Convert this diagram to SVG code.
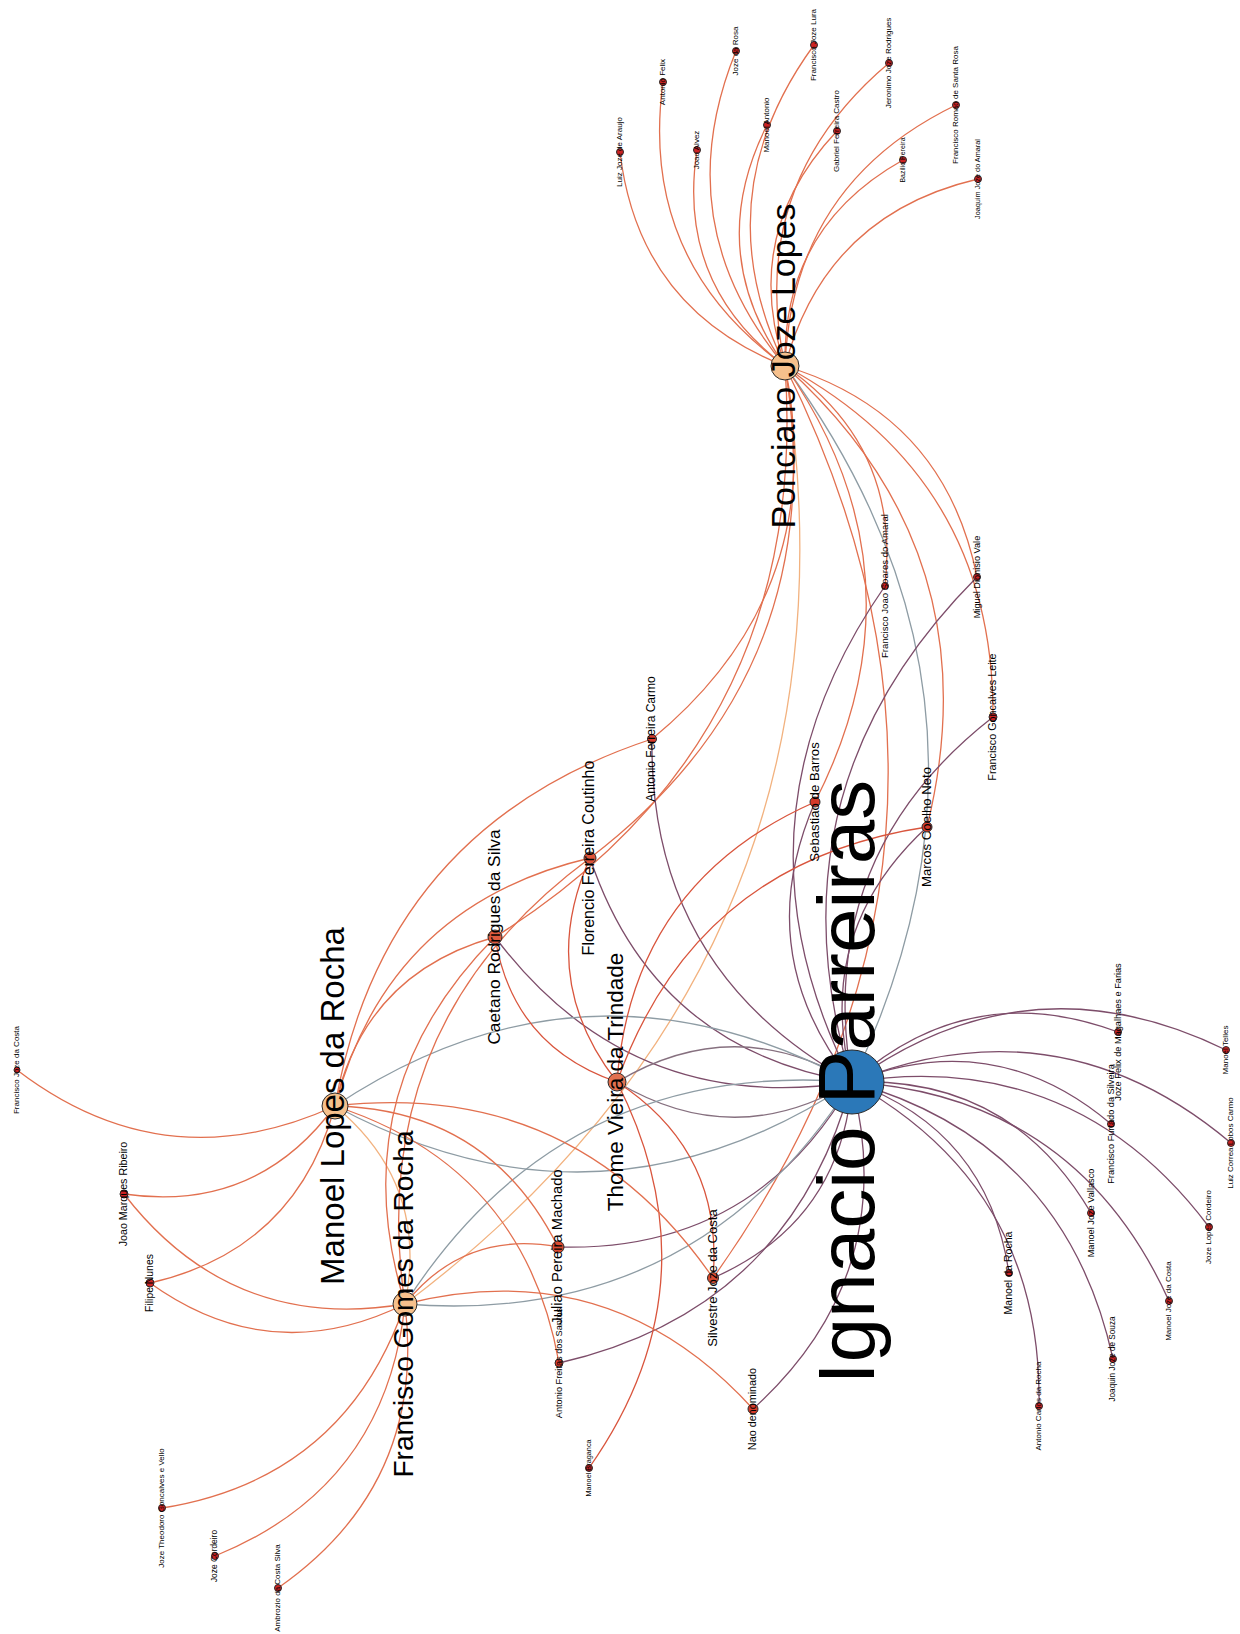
<svg xmlns="http://www.w3.org/2000/svg" width="1240" height="1634" viewBox="0 0 1240 1634">
<style>
  .e { fill: none; stroke-width: 1.3; stroke-linecap: round; }
  .pr { stroke: #e2704f; }
  .ip { stroke: #7d4d6a; }
  .ig { stroke: #8e9ca4; }
  .pp { stroke: #f2b27f; }
  .tr { stroke: #d9553d; }
  .ti { stroke: #86707f; }
  .n circle { stroke: #2a2a2a; stroke-width: 1; }
  .leaf circle { fill: #cc2222; }
  .low circle { fill: #d43a2a; }
  .mid circle { fill: #da4a30; }
  .hub circle { fill: #f6c08c; }
  .n text { font-family: "Liberation Sans", Arial, sans-serif; text-anchor: middle; fill: #000; }
</style>
<rect width="1240" height="1634" fill="#ffffff"/>

<!-- connectors: quadratic arcs, bending to the left of source -> target -->
<g id="edges">
  <!-- Ponciano Joze Lopes -->
  <path class="e pr" d="M785,366 Q638.3,308.5 620,152"/>
  <path class="e pr" d="M785,366 Q638.8,260.6 663,82"/>
  <path class="e pr" d="M785,366 Q676.2,284.4 697,150"/>
  <path class="e pr" d="M785,366 Q666,223.2 736,51"/>
  <path class="e pr" d="M785,366 Q703.7,250.9 767,125"/>
  <path class="e pr" d="M785,366 Q703.2,196.8 814,45"/>
  <path class="e pr" d="M785,366 Q740.5,232.9 837,131"/>
  <path class="e pr" d="M785,366 Q746.1,183.3 889,63"/>
  <path class="e pr" d="M785,366 Q782.2,227.6 903,160"/>
  <path class="e pr" d="M785,366 Q792.2,184.2 956,105"/>
  <path class="e pr" d="M785,366 Q825.4,214.6 978,179"/>
  <path class="e ig" d="M785,366 Q1033.3,703.9 852,1082"/>
  <path class="e pp" d="M785,366 Q876.4,949 405,1304"/>
  <path class="e pr" d="M785,366 Q830.4,592.4 652,739"/>
  <path class="e pr" d="M785,366 Q835.1,670.5 590,858"/>
  <path class="e pr" d="M785,366 Q811.3,738.5 495,937"/>
  <path class="e pr" d="M785,366 Q944.3,413.9 977,577"/>
  <path class="e pr" d="M785,366 Q994.3,479.1 993,717"/>
  <path class="e pr" d="M785,366 Q994.3,553.9 927,827"/>
  <path class="e pr" d="M785,366 Q901,446 885,586"/>
  <path class="e pr" d="M785,366 Q930.8,575 815,802"/>
  <path class="e pr" d="M785,366 Q1022.6,843.6 713,1278"/>
  <!-- Ignacio Parreiras -->
  <path class="e ip" d="M852,1082 Q970,977.2 1118,1032"/>
  <path class="e ip" d="M852,1082 Q1029.4,953.8 1226,1050"/>
  <path class="e ip" d="M852,1082 Q994.1,1025.3 1111,1124"/>
  <path class="e ip" d="M852,1082 Q1059.8,998.8 1231,1143"/>
  <path class="e ip" d="M852,1082 Q1010.8,1075.8 1091,1213"/>
  <path class="e ip" d="M852,1082 Q1074,1047.4 1209,1227"/>
  <path class="e ip" d="M852,1082 Q987.8,1130.4 1009,1273"/>
  <path class="e ip" d="M852,1082 Q1042.7,1187.9 1039,1406"/>
  <path class="e ip" d="M852,1082 Q1065.6,1142.2 1113,1359"/>
  <path class="e ip" d="M852,1082 Q1076.2,1096.4 1169,1301"/>
  <path class="e ip" d="M852,1082 Q719.7,824.1 885,586"/>
  <path class="e ip" d="M852,1082 Q763,792 977,577"/>
  <path class="e ip" d="M852,1082 Q813,857.2 993,717"/>
  <path class="e ip" d="M852,1082 Q813,932 927,827"/>
  <path class="e ip" d="M852,1082 Q749.5,953.1 815,802"/>
  <path class="e ip" d="M852,1082 Q649.1,970.5 652,739"/>
  <path class="e ip" d="M852,1082 Q653.8,1048.6 590,858"/>
  <path class="e ip" d="M852,1082 Q630,1116.6 495,937"/>
  <path class="e ip" d="M852,1082 Q754.5,1252.7 558,1247"/>
  <path class="e ip" d="M852,1082 Q841.3,1221.7 713,1278"/>
  <path class="e ip" d="M852,1082 Q789.8,1310.4 559,1363"/>
  <path class="e ip" d="M852,1082 Q900.6,1275.2 753,1409"/>
  <path class="e ti" d="M852,1082 Q734.5,1152.5 617,1082"/>
  <path class="e ti" d="M617,1082 Q734.5,1011.5 852,1082"/>
  <path class="e ig" d="M335,1106 Q586.3,938.9 852,1082"/>
  <path class="e ig" d="M852,1082 Q600.7,1249.1 335,1106"/>
  <path class="e ig" d="M405,1304 Q561.9,1058.9 852,1082"/>
  <path class="e ig" d="M852,1082 Q695.1,1327.1 405,1304"/>
  <!-- Thome Vieira da Trindade -->
  <path class="e tr" d="M617,1082 Q512.5,1046.1 495,937"/>
  <path class="e tr" d="M617,1082 Q536.3,978.1 590,858"/>
  <path class="e tr" d="M617,1082 Q632,882.6 815,802"/>
  <path class="e tr" d="M617,1082 Q695.5,861.5 927,827"/>
  <path class="e tr" d="M617,1082 Q718.8,1283.4 589,1468"/>
  <path class="e tr" d="M617,1082 Q723.8,1151.2 713,1278"/>
  <!-- Manoel Lopes da Rocha -->
  <path class="e pr" d="M335,1106 Q165.2,1183.4 17,1070"/>
  <path class="e pr" d="M335,1106 Q255.9,1213.3 124,1194"/>
  <path class="e pr" d="M335,1106 Q295.6,1250 150,1283"/>
  <path class="e pp" d="M335,1106 Q429.4,1184 405,1304"/>
  <path class="e pr" d="M335,1106 Q524.1,1167.3 559,1363"/>
  <path class="e pr" d="M335,1106 Q383.4,827.4 652,739"/>
  <path class="e pr" d="M335,1106 Q387.9,905.5 590,858"/>
  <path class="e pr" d="M335,1106 Q364.3,973.5 495,937"/>
  <path class="e pr" d="M335,1106 Q575.6,1078.6 713,1278"/>
  <path class="e pr" d="M335,1106 Q489.3,1109.6 558,1247"/>
  <!-- Francisco Gomes da Rocha -->
  <path class="e pr" d="M405,1304 Q231.5,1333.3 124,1194"/>
  <path class="e pr" d="M405,1304 Q271.2,1370 150,1283"/>
  <path class="e pr" d="M405,1304 Q344.7,1478.9 162,1508"/>
  <path class="e pr" d="M405,1304 Q385.6,1487 215,1556"/>
  <path class="e pr" d="M405,1304 Q426.7,1484.1 278,1588"/>
  <path class="e pr" d="M405,1304 Q610.5,1252.1 753,1409"/>
  <path class="e pr" d="M405,1304 Q464.4,1229.6 558,1247"/>
  <path class="e pr" d="M405,1304 Q339.9,1093.5 495,937"/>
  <path class="e pr" d="M405,1304 Q363.7,1025.5 590,858"/>
</g>

<!-- nodes -->
<g id="n-ignacio-parreiras" class="n">
  <circle cx="852" cy="1082" r="32" fill="#2b78b8"/>
  <text x="852" y="1082" dy="0.28em" font-size="80" transform="rotate(-90 852 1082)">Ignacio Parreiras</text>
</g>
<g id="n-ponciano-joze-lopes" class="n hub">
  <circle cx="785" cy="366" r="14"/>
  <text x="785" y="366" dy="0.28em" font-size="34" transform="rotate(-90 785 366)">Ponciano Joze Lopes</text>
</g>
<g id="n-manoel-lopes-da-rocha" class="n hub">
  <circle cx="335" cy="1106" r="13"/>
  <text x="335" y="1106" dy="0.28em" font-size="33" transform="rotate(-90 335 1106)">Manoel Lopes da Rocha</text>
</g>
<g id="n-francisco-gomes-da-rocha" class="n hub">
  <circle cx="405" cy="1304" r="12"/>
  <text x="405" y="1304" dy="0.28em" font-size="28" transform="rotate(-90 405 1304)">Francisco Gomes da Rocha</text>
</g>
<g id="n-thome-vieira-da-trindade" class="n">
  <circle cx="617" cy="1082" r="9" fill="#e2704f"/>
  <text x="617" y="1082" dy="0.28em" font-size="22.5" transform="rotate(-90 617 1082)">Thome Vieira da Trindade</text>
</g>
<g id="n-caetano-rodrigues-da-silva" class="n">
  <circle cx="495" cy="937" r="7" fill="#e05a3e"/>
  <text x="495" y="937" dy="0.28em" font-size="17.3" transform="rotate(-90 495 937)">Caetano Rodrigues da Silva</text>
</g>
<g id="n-florencio-ferreira-coutinho" class="n">
  <circle cx="590" cy="858" r="6" fill="#de5238"/>
  <text x="590" y="858" dy="0.28em" font-size="16" transform="rotate(-90 590 858)">Florencio Ferreira Coutinho</text>
</g>
<g id="n-juliao-pereira-machado" class="n mid">
  <circle cx="558" cy="1247" r="6"/>
  <text x="558" y="1247" dy="0.28em" font-size="14.8" transform="rotate(-90 558 1247)">Juliao Pereira Machado</text>
</g>
<g id="n-silvestre-joze-da-costa" class="n mid">
  <circle cx="713" cy="1278" r="5.5"/>
  <text x="713" y="1278" dy="0.28em" font-size="13.1" transform="rotate(-90 713 1278)">Silvestre Joze da Costa</text>
</g>
<g id="n-antonio-freitas-dos-santos" class="n low">
  <circle cx="559" cy="1363" r="4"/>
  <text x="559" y="1363" dy="0.28em" font-size="9.2" transform="rotate(-90 559 1363)">Antonio Freitas dos Santos</text>
</g>
<g id="n-nao-denominado" class="n low">
  <circle cx="753" cy="1409" r="5"/>
  <text x="753" y="1409" dy="0.28em" font-size="10.8" transform="rotate(-90 753 1409)">Nao denominado</text>
</g>
<g id="n-manoel-braganca" class="n leaf">
  <circle cx="589" cy="1468" r="3.5"/>
  <text x="589" y="1468" dy="0.28em" font-size="7.3" transform="rotate(-90 589 1468)">Manoel Braganca</text>
</g>
<g id="n-antonio-ferreira-carmo" class="n low">
  <circle cx="652" cy="739" r="4.5"/>
  <text x="652" y="739" dy="0.28em" font-size="12" transform="rotate(-90 652 739)">Antonio Ferreira Carmo</text>
</g>
<g id="n-sebastiao-de-barros" class="n low">
  <circle cx="815" cy="802" r="5"/>
  <text x="815" y="802" dy="0.28em" font-size="13.2" transform="rotate(-90 815 802)">Sebastiao de Barros</text>
</g>
<g id="n-marcos-coelho-neto" class="n low">
  <circle cx="927" cy="827" r="5"/>
  <text x="927" y="827" dy="0.28em" font-size="13.2" transform="rotate(-90 927 827)">Marcos Coelho Neto</text>
</g>
<g id="n-francisco-joao-soares-do-amaral" class="n leaf">
  <circle cx="885" cy="586" r="3.5"/>
  <text x="885" y="586" dy="0.28em" font-size="9.6" transform="rotate(-90 885 586)">Francisco Joao Soares do Amaral</text>
</g>
<g id="n-miguel-dionisio-vale" class="n leaf">
  <circle cx="977" cy="577" r="3.5"/>
  <text x="977" y="577" dy="0.28em" font-size="9.2" transform="rotate(-90 977 577)">Miguel Dionisio Vale</text>
</g>
<g id="n-francisco-goncalves-leite" class="n leaf">
  <circle cx="993" cy="717" r="4"/>
  <text x="993" y="717" dy="0.28em" font-size="10.8" transform="rotate(-90 993 717)">Francisco Goncalves Leite</text>
</g>
<g id="n-luiz-joze-de-araujo" class="n leaf">
  <circle cx="620" cy="152" r="3.5"/>
  <text x="620" y="152" dy="0.28em" font-size="8" transform="rotate(-90 620 152)">Luiz Joze de Araujo</text>
</g>
<g id="n-antonio-felix" class="n leaf">
  <circle cx="663" cy="82" r="3.5"/>
  <text x="663" y="82" dy="0.28em" font-size="8" transform="rotate(-90 663 82)">Antonio Felix</text>
</g>
<g id="n-joao-alvez" class="n leaf">
  <circle cx="697" cy="150" r="3.5"/>
  <text x="697" y="150" dy="0.28em" font-size="8" transform="rotate(-90 697 150)">Joao Alvez</text>
</g>
<g id="n-joze-da-rosa" class="n leaf">
  <circle cx="736" cy="51" r="3.5"/>
  <text x="736" y="51" dy="0.28em" font-size="8" transform="rotate(-90 736 51)">Joze da Rosa</text>
</g>
<g id="n-manoel-antonio" class="n leaf">
  <circle cx="767" cy="125" r="3.5"/>
  <text x="767" y="125" dy="0.28em" font-size="8" transform="rotate(-90 767 125)">Manoel Antonio</text>
</g>
<g id="n-francisco-joze-lura" class="n leaf">
  <circle cx="814" cy="45" r="3.5"/>
  <text x="814" y="45" dy="0.28em" font-size="8" transform="rotate(-90 814 45)">Francisco Joze Lura</text>
</g>
<g id="n-gabriel-ferreira-castro" class="n leaf">
  <circle cx="837" cy="131" r="3.5"/>
  <text x="837" y="131" dy="0.28em" font-size="8" transform="rotate(-90 837 131)">Gabriel Ferreira Castro</text>
</g>
<g id="n-jeronimo-joze-rodrigues" class="n leaf">
  <circle cx="889" cy="63" r="3.5"/>
  <text x="889" y="63" dy="0.28em" font-size="8" transform="rotate(-90 889 63)">Jeronimo Joze Rodrigues</text>
</g>
<g id="n-bazilio-pereira" class="n leaf">
  <circle cx="903" cy="160" r="3.5"/>
  <text x="903" y="160" dy="0.28em" font-size="7" transform="rotate(-90 903 160)">Bazilio Pereira</text>
</g>
<g id="n-francisco-romao-de-santa-rosa" class="n leaf">
  <circle cx="956" cy="105" r="3.5"/>
  <text x="956" y="105" dy="0.28em" font-size="8" transform="rotate(-90 956 105)">Francisco Romao de Santa Rosa</text>
</g>
<g id="n-joaquim-joze-do-amaral" class="n leaf">
  <circle cx="978" cy="179" r="3.5"/>
  <text x="978" y="179" dy="0.28em" font-size="7.3" transform="rotate(-90 978 179)">Joaquim Joze do Amaral</text>
</g>
<g id="n-francisco-joze-da-costa" class="n leaf">
  <circle cx="17" cy="1070" r="3"/>
  <text x="17" y="1070" dy="0.28em" font-size="8" transform="rotate(-90 17 1070)">Francisco Joze da Costa</text>
</g>
<g id="n-joao-marques-ribeiro" class="n leaf">
  <circle cx="124" cy="1194" r="4"/>
  <text x="124" y="1194" dy="0.28em" font-size="10.7" transform="rotate(-90 124 1194)">Joao Marques Ribeiro</text>
</g>
<g id="n-filipe-nunes" class="n leaf">
  <circle cx="150" cy="1283" r="4"/>
  <text x="150" y="1283" dy="0.28em" font-size="10.4" transform="rotate(-90 150 1283)">Filipe Nunes</text>
</g>
<g id="n-joze-theodoro-goncalves-e-vello" class="n leaf">
  <circle cx="162" cy="1508" r="3.5"/>
  <text x="162" y="1508" dy="0.28em" font-size="8" transform="rotate(-90 162 1508)">Joze Theodoro Goncalves e Vello</text>
</g>
<g id="n-joze-cordeiro" class="n leaf">
  <circle cx="215" cy="1556" r="3.5"/>
  <text x="215" y="1556" dy="0.28em" font-size="8.4" transform="rotate(-90 215 1556)">Joze Cordeiro</text>
</g>
<g id="n-ambrozio-da-costa-silva" class="n leaf">
  <circle cx="278" cy="1588" r="3.5"/>
  <text x="278" y="1588" dy="0.28em" font-size="8" transform="rotate(-90 278 1588)">Ambrozio da Costa Silva</text>
</g>
<g id="n-joze-felix-de-magalhaes-e-farias" class="n leaf">
  <circle cx="1118" cy="1032" r="3.5"/>
  <text x="1118" y="1032" dy="0.28em" font-size="9.2" transform="rotate(-90 1118 1032)">Joze Felix de Magalhaes e Farias</text>
</g>
<g id="n-manoel-telles" class="n leaf">
  <circle cx="1226" cy="1050" r="3.5"/>
  <text x="1226" y="1050" dy="0.28em" font-size="8" transform="rotate(-90 1226 1050)">Manoel Telles</text>
</g>
<g id="n-francisco-furtado-da-silveira" class="n leaf">
  <circle cx="1111" cy="1124" r="3.5"/>
  <text x="1111" y="1124" dy="0.28em" font-size="9.2" transform="rotate(-90 1111 1124)">Francisco Furtado da Silveira</text>
</g>
<g id="n-luiz-correa-lobos-carmo" class="n leaf">
  <circle cx="1231" cy="1143" r="3.5"/>
  <text x="1231" y="1143" dy="0.28em" font-size="8" transform="rotate(-90 1231 1143)">Luiz Correa Lobos Carmo</text>
</g>
<g id="n-manoel-joze-vallasco" class="n leaf">
  <circle cx="1091" cy="1213" r="3.5"/>
  <text x="1091" y="1213" dy="0.28em" font-size="9.2" transform="rotate(-90 1091 1213)">Manoel Joze Vallasco</text>
</g>
<g id="n-joze-lopes-cordeiro" class="n leaf">
  <circle cx="1209" cy="1227" r="3.5"/>
  <text x="1209" y="1227" dy="0.28em" font-size="8" transform="rotate(-90 1209 1227)">Joze Lopes Cordeiro</text>
</g>
<g id="n-manoel-da-rocha" class="n leaf">
  <circle cx="1009" cy="1273" r="3.5"/>
  <text x="1009" y="1273" dy="0.28em" font-size="10.6" transform="rotate(-90 1009 1273)">Manoel da Rocha</text>
</g>
<g id="n-antonio-carlos-da-rocha" class="n leaf">
  <circle cx="1039" cy="1406" r="3.5"/>
  <text x="1039" y="1406" dy="0.28em" font-size="8" transform="rotate(-90 1039 1406)">Antonio Carlos da Rocha</text>
</g>
<g id="n-joaquin-joze-de-souza" class="n leaf">
  <circle cx="1113" cy="1359" r="3.5"/>
  <text x="1113" y="1359" dy="0.28em" font-size="8.2" transform="rotate(-90 1113 1359)">Joaquin Joze de Souza</text>
</g>
<g id="n-manoel-joze-da-costa" class="n leaf">
  <circle cx="1169" cy="1301" r="3.5"/>
  <text x="1169" y="1301" dy="0.28em" font-size="8" transform="rotate(-90 1169 1301)">Manoel Joze da Costa</text>
</g>
</svg>
